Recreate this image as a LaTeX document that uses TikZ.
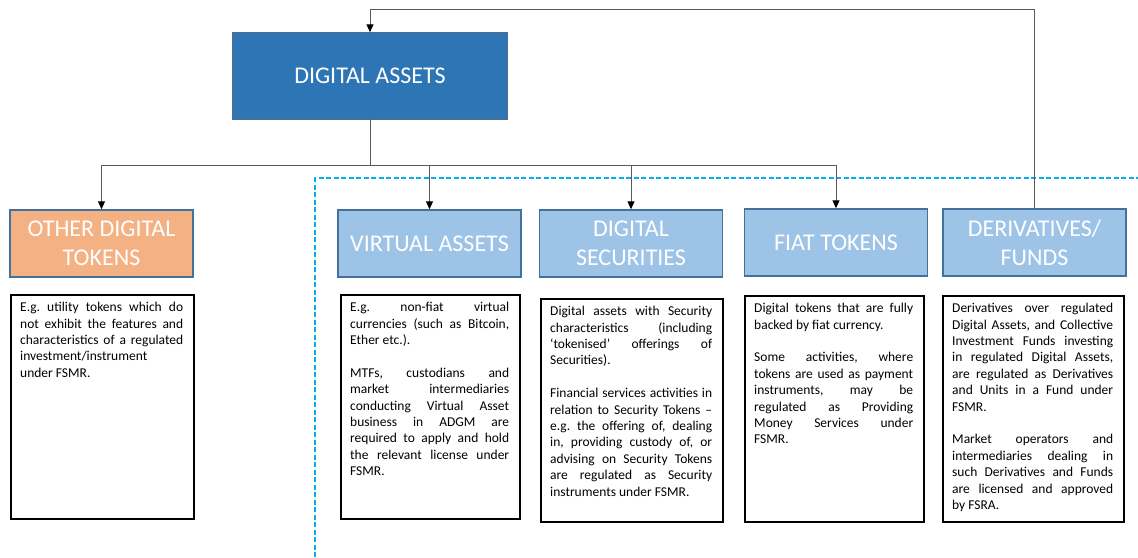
\documentclass[tikz,border=0pt]{standalone}
\usepackage{fontspec}
\setmainfont{Carlito}
\usetikzlibrary{arrows.meta}

\definecolor{assetblue}{HTML}{2E75B6}
\definecolor{lightblue}{HTML}{9DC3E6}
\definecolor{tokenorange}{HTML}{F4B183}
\definecolor{edgeblue}{HTML}{41719C}
\definecolor{linegray}{HTML}{595959}
\definecolor{dashblue}{HTML}{00B0F0}

\newcommand\gapline{\par\vskip\baselineskip}
\hbadness=10000
\hfuzz=3pt
\frenchspacing

\begin{document}
\begin{tikzpicture}[x=1pt,y=-1pt,>={Triangle[length=8pt,width=7pt,color=black]},
        head/.style={draw=edgeblue,line width=1.5pt,fill=lightblue,text=white,
                minimum width=183pt,minimum height=67pt,inner sep=0pt,align=center,
                font=\fontsize{24}{29}\selectfont},
        descbox/.style={draw=black,line width=1.5pt,anchor=north west,inner sep=0pt},
        desctext/.style={anchor=north west,inner xsep=10pt,inner ysep=6pt,
                text width=#1,align=justify,font=\fontsize{13.5}{16.4}\selectfont\frenchspacing},
        conn/.style={draw=linegray,line width=1pt}]
        \useasboundingbox (0,0) rectangle (1138,557);

        % the regulated scope
        \draw[dashblue,line width=1.5pt,dash pattern=on 5pt off 2.5pt]
                (315,557) -- (315,178) -- (1138,178);

        % the top box
        \node[head,fill=assetblue,minimum width=274pt,minimum height=86pt] (assets) at (370,76) {DIGITAL ASSETS};

        % the categories
        \node[head,fill=tokenorange] (other) at (101.5,243.5) {OTHER DIGITAL\\TOKENS};
        \node[head] (virtual) at (429.5,243.5) {VIRTUAL ASSETS};
        \node[head] (securities) at (631,243.5) {DIGITAL\\SECURITIES};
        \node[head] (fiat) at (836,242.5) {FIAT TOKENS};
        \node[head] (deriv) at (1034.5,242.5) {DERIVATIVES/\\FUNDS};

        % tree lines
        \coordinate (bus) at (370,165);
        \draw[conn] (assets.south) -- (bus);
        \foreach \n in {other,virtual,securities,fiat}
                \draw[conn,->] (bus) -| (\n.north);

        % line back to the top box
        \coordinate (top) at (370,9);
        \draw[conn,->] (deriv.north) |- (top) -- (assets.north);

        % description frames
        \node[descbox,minimum width=183pt,minimum height=224pt] (otherbox) at (10,294) {};
        \node[descbox,minimum width=179pt,minimum height=224pt] (virtualbox) at (340,294) {};
        \node[descbox,minimum width=182pt,minimum height=223pt] (securitiesbox) at (540,298) {};
        \node[descbox,minimum width=179pt,minimum height=226pt] (fiatbox) at (744,295) {};
        \node[descbox,minimum width=181pt,minimum height=226pt] (derivbox) at (942,295) {};

        % description texts
        \node[desctext=163pt] (othertext) at (otherbox.north west) {\strut
                E.g. utility tokens which do\linebreak
                not exhibit the features and\linebreak
                characteristics of a regulated\linebreak
                investment/instrument\linebreak
                under FSMR.};
        \node[desctext=159pt] (virtualtext) at (virtualbox.north west) {\strut
                E.g. non-fiat virtual\linebreak
                currencies (such as Bitcoin,\linebreak
                Ether etc.).\gapline
                MTFs, custodians and\linebreak
                market intermediaries\linebreak
                conducting Virtual Asset\linebreak
                business in ADGM are\linebreak
                required to apply and hold\linebreak
                the relevant license under\linebreak
                FSMR.};
        \node[desctext=162pt] (securitiestext) at (securitiesbox.north west) {\strut
                Digital assets with Security\linebreak
                characteristics (including\linebreak
                ‘tokenised’ offerings of\linebreak
                Securities).\gapline
                Financial services activities in\linebreak
                relation to Security Tokens –\linebreak
                e.g. the offering of, dealing\linebreak
                in, providing custody of, or\linebreak
                advising on Security Tokens\linebreak
                are regulated as Security\linebreak
                instruments under FSMR.};
        \node[desctext=159pt] (fiattext) at (fiatbox.north west) {\strut
                Digital tokens that are fully\linebreak
                backed by fiat currency.\gapline
                Some activities, where\linebreak
                tokens are used as payment\linebreak
                instruments, may be\linebreak
                regulated as Providing\linebreak
                Money Services under\linebreak
                FSMR.};
        \node[desctext=161pt] (derivtext) at (derivbox.north west) {\strut
                Derivatives over regulated\linebreak
                Digital Assets, and Collective\linebreak
                Investment Funds investing\linebreak
                in regulated Digital Assets,\linebreak
                are regulated as Derivatives\linebreak
                and Units in a Fund under\linebreak
                FSMR.\gapline
                Market operators and\linebreak
                intermediaries dealing in\linebreak
                such Derivatives and Funds\linebreak
                are licensed and approved\linebreak
                by FSRA.};
\end{tikzpicture}
\end{document}
